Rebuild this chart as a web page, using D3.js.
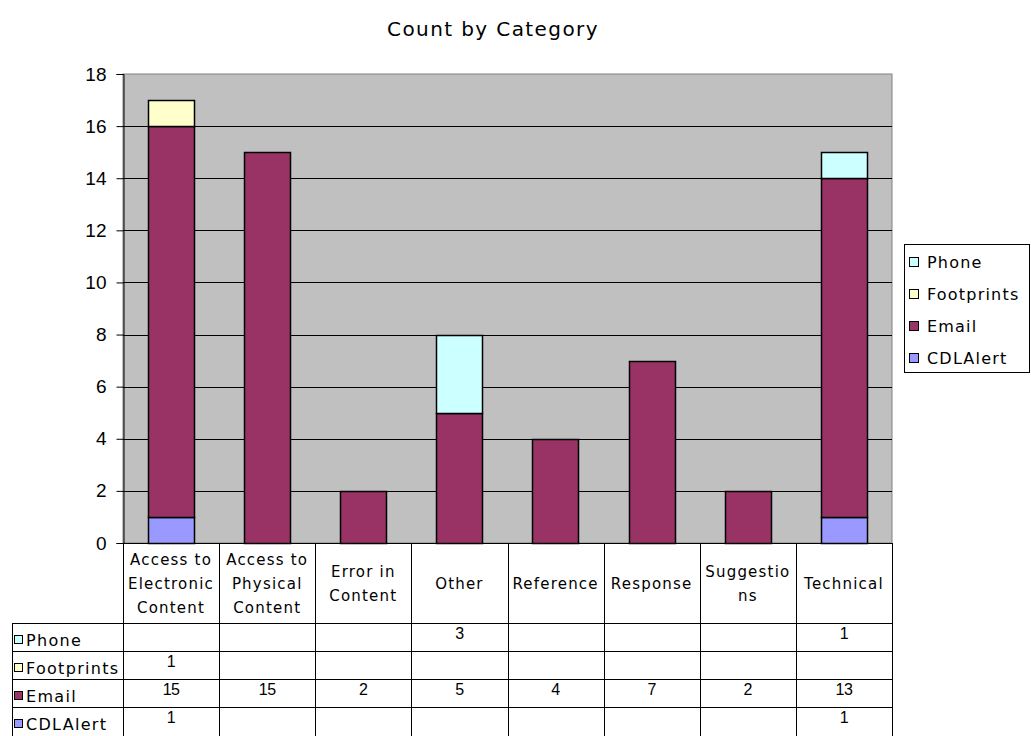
<html>
<head>
  <style>
    body {
      margin: 0;
      background: #fff;
      font-family: "DejaVu Sans", sans-serif;
    }
    .wide {
      font-family: "DejaVu Sans", sans-serif;
    }
    .num {
      font-family: "Liberation Sans Narrow", "Liberation Sans", sans-serif;
    }
  </style>
</head>
<body>
  <div class="chart"></div>
  <script src="https://cdn.jsdelivr.net/npm/d3@7"></script>
  <script>
    // chart data
    let categories = ["Access to Electronic Content", "Access to Physical Content",
      "Error in Content", "Other", "Reference", "Response", "Suggestions", "Technical"];
    // how the category names wrap in the table header
    let headerLines = [["Access to", "Electronic", "Content"], ["Access to", "Physical", "Content"],
      ["Error in", "Content"], ["Other"], ["Reference"], ["Response"], ["Suggestio", "ns"], ["Technical"]];
    let seriesNames = ["CDLAlert", "Email", "Footprints", "Phone"];
    let cdlAlert = [1, null, null, null, null, null, null, 1];
    let email = [15, 15, 2, 5, 4, 7, 2, 13];
    let footprints = [1, null, null, null, null, null, null, null];
    let phone = [null, null, null, 3, null, null, null, 1];
    let yTicks = [0, 2, 4, 6, 8, 10, 12, 14, 16, 18];
    let colors = { CDLAlert: "#9999ff", Email: "#993366", Footprints: "#ffffcc", Phone: "#ccffff" };

    let seriesValues = { CDLAlert: cdlAlert, Email: email, Footprints: footprints, Phone: phone };

    // layout
    let width = 1031, height = 736;
    let plot = { left: 123, right: 892, top: 74, bottom: 543 };
    let table = { left: 12, headerBottom: 623, rowH: 28 };

    let svg = d3.select(".chart").append("svg")
      .attr("width", width)
      .attr("height", height);

    let x = d3.scaleBand()
      .domain(categories)
      .range([plot.left, plot.right])
      .paddingInner(0.52)
      .paddingOuter(0.26);

    let y = d3.scaleLinear()
      .domain([0, 18])
      .range([plot.bottom, plot.top]);

    // title
    svg.append("text")
      .attr("class", "wide")
      .attr("x", 493)
      .attr("y", 36)
      .attr("text-anchor", "middle")
      .style("font-size", "20px")
      .style("letter-spacing", "1.4px")
      .text("Count by Category");

    // plot background
    svg.append("rect")
      .attr("x", plot.left)
      .attr("y", plot.top)
      .attr("width", plot.right - plot.left)
      .attr("height", plot.bottom - plot.top)
      .attr("fill", "#c0c0c0")
      .attr("stroke", "#808080")
      .attr("stroke-width", 1);

    // gridlines
    svg.append("g")
      .selectAll("line")
      .data(yTicks.filter(function (d) { return d > 0 && d < 18; }))
      .enter().append("line")
      .attr("x1", plot.left)
      .attr("x2", plot.right)
      .attr("y1", function (d) { return Math.round(y(d)) + 0.5; })
      .attr("y2", function (d) { return Math.round(y(d)) + 0.5; })
      .attr("stroke", "#000")
      .attr("stroke-width", 1);

    // y axis
    let yAxis = d3.axisLeft(y)
      .tickValues(yTicks)
      .tickSize(7)
      .tickPadding(10);
    let gy = svg.append("g")
      .attr("transform", "translate(" + (plot.left + 0.5) + ",0)")
      .call(yAxis);
    gy.select(".domain").attr("stroke", "#000");
    gy.selectAll("text")
      .style("font-family", "\"Liberation Sans\", Arial, sans-serif")
      .style("font-size", "19px")
      .attr("fill", "#000");

    // stacked bars
    let rows = categories.map(function (c, i) {
      let r = { category: c };
      seriesNames.forEach(function (s) { r[s] = seriesValues[s][i] || 0; });
      return r;
    });
    let stack = d3.stack().keys(seriesNames);
    let layers = stack(rows);

    svg.append("g")
      .selectAll("g")
      .data(layers)
      .enter().append("g")
      .attr("fill", function (d) { return colors[d.key]; })
      .selectAll("rect")
      .data(function (d) { return d.filter(function (p) { return p[1] > p[0]; }); })
      .enter().append("rect")
      .attr("x", function (d) { return Math.round(x(d.data.category)) + 0.5; })
      .attr("width", Math.round(x.bandwidth()))
      .attr("y", function (d) { return Math.round(y(d[1])) + 0.5; })
      .attr("height", function (d) { return Math.round(y(d[0])) - Math.round(y(d[1])); })
      .attr("stroke", "#000")
      .attr("stroke-width", 1.5);

    // data table
    let step = x.step();
    let colEdges = d3.range(categories.length + 1).map(function (i) {
      return plot.left + i * step;
    });
    let tbl = svg.append("g");

    // header column lines
    colEdges.forEach(function (cx) {
      tbl.append("line")
        .attr("x1", Math.round(cx) + 0.5).attr("x2", Math.round(cx) + 0.5)
        .attr("y1", plot.bottom).attr("y2", height)
        .attr("stroke", "#000");
    });
    // header row top line
    tbl.append("line")
      .attr("x1", plot.left).attr("x2", plot.right)
      .attr("y1", plot.bottom + 0.5).attr("y2", plot.bottom + 0.5)
      .attr("stroke", "#000");

    // header labels
    headerLines.forEach(function (lines, i) {
      let cx = x(categories[i]) + x.bandwidth() / 2;
      let mid = (plot.bottom + table.headerBottom) / 2;
      let start = mid - (lines.length - 1) * 24 / 2;
      lines.forEach(function (t, j) {
        tbl.append("text")
          .attr("class", "wide")
          .attr("x", cx)
          .attr("y", start + j * 24 + 6)
          .attr("text-anchor", "middle")
          .style("font-size", "15px")
          .style("letter-spacing", "1.2px")
          .text(t);
      });
    });

    // table rows, top to bottom
    let tableOrder = seriesNames.slice().reverse();
    tableOrder.forEach(function (s, r) {
      let top = table.headerBottom + r * table.rowH;
      tbl.append("line")
        .attr("x1", table.left).attr("x2", plot.right)
        .attr("y1", top + 0.5).attr("y2", top + 0.5)
        .attr("stroke", "#000");
      tbl.append("rect")
        .attr("x", table.left + 2.5).attr("y", top + 12.5)
        .attr("width", 8).attr("height", 8)
        .attr("fill", colors[s])
        .attr("stroke", "#000");
      tbl.append("text")
        .attr("class", "wide")
        .attr("x", table.left + 14)
        .attr("y", top + 23)
        .style("font-size", "16px")
        .style("letter-spacing", "1.3px")
        .text(s);
      seriesValues[s].forEach(function (v, i) {
        if (v == null) return;
        tbl.append("text")
          .attr("class", "num")
          .attr("x", x(categories[i]) + x.bandwidth() / 2)
          .attr("y", top + 16)
          .attr("text-anchor", "middle")
          .style("font-size", "16px")
          .style("letter-spacing", "-0.5px")
          .text(v);
      });
    });
    // left border of label column
    tbl.append("line")
      .attr("x1", table.left + 0.5).attr("x2", table.left + 0.5)
      .attr("y1", table.headerBottom).attr("y2", height)
      .attr("stroke", "#000");

    // legend
    let legend = svg.append("g").attr("transform", "translate(904,244)");
    legend.append("rect")
      .attr("x", 0.5).attr("y", 0.5)
      .attr("width", 125).attr("height", 128)
      .attr("fill", "#fff")
      .attr("stroke", "#000");
    tableOrder.forEach(function (s, i) {
      let ly = 18 + i * 32;
      legend.append("rect")
        .attr("x", 5.5).attr("y", ly - 4.5)
        .attr("width", 9).attr("height", 9)
        .attr("fill", colors[s])
        .attr("stroke", "#000");
      legend.append("text")
        .attr("class", "wide")
        .attr("x", 23)
        .attr("y", ly + 6)
        .style("font-size", "16px")
        .style("letter-spacing", "1.2px")
        .text(s);
    });
  </script>
</body>
</html>
